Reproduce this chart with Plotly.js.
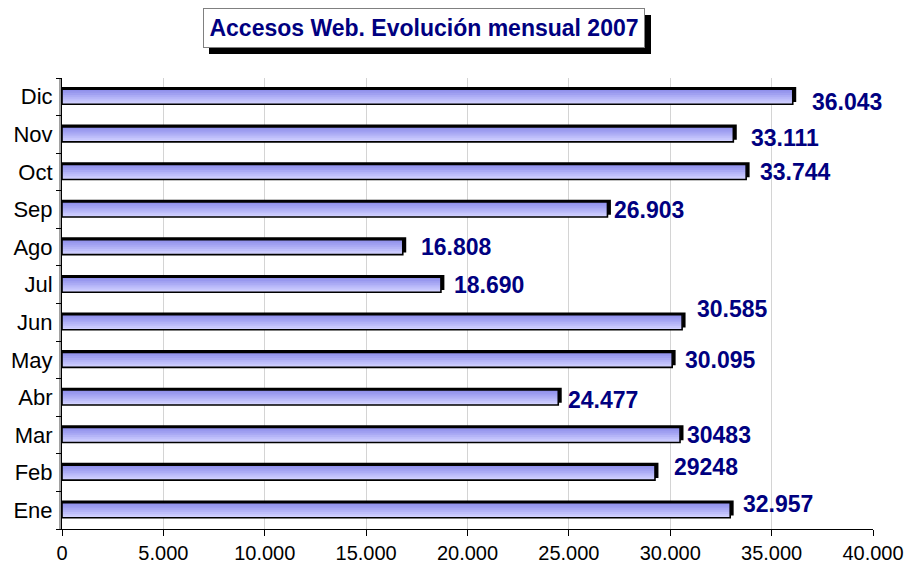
<!DOCTYPE html>
<html>
<head>
<meta charset="utf-8">
<script src="https://cdn.plot.ly/plotly-3.0.1.min.js"></script>
<style>html,body{margin:0;padding:0;background:#fff}#chart{width:909px;height:563px}</style>
</head>
<body>
<div id="chart"></div>
<script>
// ---- data ----
const months = ['Ene','Feb','Mar','Abr','May','Jun','Jul','Ago','Sep','Oct','Nov','Dic'];
const visits = [32957, 29248, 30483, 24477, 30095, 30585, 18690, 16808, 26903, 33744, 33111, 36043];
const valueLabels = ['32.957','29248','30483','24.477','30.095','30.585','18.690','16.808','26.903','33.744','33.111','36.043'];
const xTickVals = [0, 5000, 10000, 15000, 20000, 25000, 30000, 35000, 40000];
const xTickText = ['0','5.000','10.000','15.000','20.000','25.000','30.000','35.000','40.000'];
const chartTitle = 'Accesos Web. Evolución mensual 2007';

// ---- styling ----
const labelXShift = [11, 17, 5, 8, 11, 13, 11, 16, 5, 12, 16, 17];
const labelYShift = [6, 6, 0, -3, 0, 13, 0, 0, 0, 0, -4, -5];
const barW = 0.4;
const bandColors = ['#d2d2ff','#c8c8fd','#bebefa','#b4b4f7','#aaaaf4','#a0a0f1','#9898ee','#9090eb'];
const shadowDx = 170;
const FONT = 'Liberation Sans, Arial, sans-serif';

const traces = [];
// depth / shadow
traces.push({
  type: 'bar', orientation: 'h', y: months,
  x: visits.map(v => v + shadowDx),
  width: barW, offset: -barW / 2 + 0.06,
  marker: {color: '#000000', line: {width: 0}},
  hoverinfo: 'skip', showlegend: false
});
// gradient bands (each band reaches the top of the bar, later ones drawn over)
const nb = bandColors.length;
for (let i = 0; i < nb; i++) {
  traces.push({
    type: 'bar', orientation: 'h', y: months, x: visits,
    width: barW - i * barW / nb, offset: -barW / 2 + i * barW / nb,
    marker: {color: bandColors[i], line: {width: 0}},
    hoverinfo: 'skip', showlegend: false
  });
}
// outline
traces.push({
  type: 'bar', orientation: 'h', y: months, x: visits,
  width: barW, offset: -barW / 2,
  marker: {color: 'rgba(0,0,0,0)', line: {color: '#000000', width: 1.6}},
  name: 'Accesos', showlegend: false
});

const annotations = months.map((m, i) => ({
  x: visits[i], y: m, xref: 'x', yref: 'y',
  text: '<b>' + valueLabels[i] + '</b>', showarrow: false,
  xanchor: 'left', yanchor: 'middle',
  xshift: labelXShift[i], yshift: labelYShift[i],
  font: {family: FONT, size: 23, color: '#000080'}
}));
// title box
annotations.push({
  xref: 'paper', yref: 'paper', x: (424 - 62) / 811, y: (529 - 28.5) / 451,
  xanchor: 'center', yanchor: 'middle', showarrow: false,
  text: '<b>' + chartTitle + '</b>', width: 438, height: 36,
  bgcolor: '#ffffff', bordercolor: '#808080', borderwidth: 1,
  font: {family: FONT, size: 23, color: '#000080'}
});

const shapes = [{
  type: 'rect', xref: 'paper', yref: 'paper', layer: 'below',
  x0: (209 - 62) / 811, x1: (651 - 62) / 811,
  y0: (529 - 54) / 451, y1: (529 - 15) / 451,
  fillcolor: '#000000', line: {width: 0}
}, {
  type: 'rect', xref: 'paper', yref: 'paper', layer: 'below',
  x0: -3 / 811, x1: 0, y0: 0, y1: 1,
  fillcolor: '#a0a0a0', line: {width: 0}
}];

const layout = {
  width: 909, height: 563,
  margin: {l: 62, r: 36, t: 78, b: 34, pad: 0},
  paper_bgcolor: '#ffffff', plot_bgcolor: '#ffffff',
  barmode: 'overlay',
  showlegend: false,
  font: {family: FONT, size: 20, color: '#000000'},
  xaxis: {
    range: [0, 40000], tickvals: xTickVals, ticktext: xTickText,
    showgrid: true, gridcolor: '#d4d4d4', gridwidth: 1,
    zeroline: false, showline: true, linecolor: '#000000', linewidth: 1,
    ticks: 'outside', ticklen: 6, tickcolor: '#000000',
    tickfont: {family: FONT, size: 20, color: '#000000'}
  },
  yaxis: {
    type: 'category', categoryorder: 'array', categoryarray: months,
    range: [-0.5, 11.5],
    showgrid: false, zeroline: false,
    showline: true, linecolor: '#000000', linewidth: 1,
    ticks: 'outside', ticklen: 5, tickcolor: '#000000', tickson: 'boundaries',
    ticklabelstandoff: 4,
    tickfont: {family: FONT, size: 22, color: '#000000'}
  },
  shapes: shapes,
  annotations: annotations
};

Plotly.newPlot('chart', traces, layout, {displayModeBar: false, staticPlot: true});
</script>
</body>
</html>
